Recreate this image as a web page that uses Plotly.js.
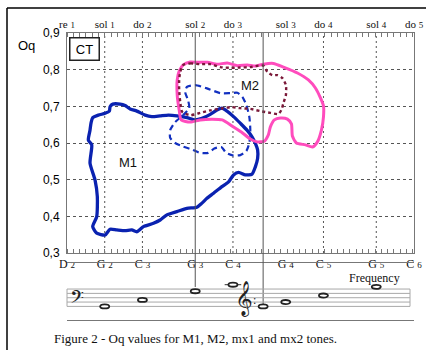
<!DOCTYPE html>
<html>
<head>
<meta charset="utf-8">
<script src="https://cdn.plot.ly/plotly-3.0.1.min.js"></script>
<style>html,body{margin:0;padding:0;background:#fff;}#chart{width:426px;height:350px;}</style>
</head>
<body>
<div id="chart"></div>
<script>
// ---- axis notes (x in MIDI semitones) ----
const noteMidi = [38, 43, 48, 55, 60, 67, 72, 79, 84];
const bottomLabels = ['D 2', 'G 2', 'C 3', 'G 3', 'C 4', 'G 4', 'C 5', 'G 5', 'C 6'];
const topLabels = ['re 1', 'sol 1', 'do 2', 'sol 2', 'do 3', 'sol 3', 'do 4', 'sol 4', 'do 5'];
const gridMidi = [43, 48, 60, 72, 79];
const passageMidi = [55, 64];          // G3 and E4 register lines
const yTicks = [0.3, 0.4, 0.5, 0.6, 0.7, 0.8, 0.9];
const yLabels = ['0,3', '0,4', '0,5', '0,6', '0,7', '0,8', '0,9'];

// ---- M1 (solid blue) ----
const m1Pitch = [41.41,42.16,43.05,43.62,43.71,44.07,45.04,45.70,46.37,47.26,48.36,49.25,50.35,51.45,52.57,53.90,55.00,55.89,56.99,57.88,58.54,59.21,60.08,60.97,61.86,62.53,62.97,63.27,63.27,62.97,62.53,61.64,60.75,60.08,59.42,58.54,57.43,56.55,55.89,55.22,53.90,52.57,51.24,50.35,49.46,48.13,47.26,46.59,45.70,44.60,43.71,43.05,41.94,41.41,41.94,42.02,41.72,41.05,41.28,40.83,41.05,41.19];
const m1Oq = [0.669,0.676,0.681,0.687,0.699,0.706,0.706,0.702,0.693,0.687,0.676,0.672,0.674,0.676,0.674,0.669,0.663,0.667,0.678,0.690,0.695,0.687,0.672,0.654,0.635,0.617,0.599,0.581,0.558,0.535,0.515,0.513,0.520,0.513,0.494,0.481,0.463,0.449,0.436,0.425,0.422,0.413,0.404,0.390,0.381,0.372,0.358,0.363,0.361,0.363,0.365,0.349,0.354,0.372,0.399,0.454,0.499,0.545,0.595,0.608,0.635,0.655];

// ---- mx1 (dashed blue) ----
const mx1Pitch = [53.90,55.00,56.55,58.32,59.65,60.58,61.24,61.77,62.17,62.30,62.17,61.77,60.97,60.05,59.12,58.45,57.52,56.72,55.66,54.60,53.40,52.34,51.68,51.68,52.34,53.40,54.20,54.07,53.67];
const mx1Oq = [0.753,0.758,0.749,0.736,0.736,0.737,0.726,0.704,0.671,0.635,0.600,0.578,0.567,0.566,0.573,0.589,0.585,0.573,0.573,0.582,0.590,0.600,0.614,0.635,0.657,0.676,0.695,0.715,0.739];

// ---- M2 (solid pink) ----
const m2Pitch = [53.41,54.33,55.26,56.59,57.92,59.25,60.58,61.90,62.97,64.03,65.36,66.69,68.55,70.00,70.93,71.60,72.00,72.00,71.73,71.20,70.54,69.61,68.41,67.88,67.75,67.22,66.29,65.49,64.96,64.69,64.16,63.23,62.30,61.11,59.91,58.58,57.26,55.66,54.33,53.14,52.87,52.61,52.61,52.87];
const m2Oq = [0.813,0.821,0.820,0.820,0.815,0.818,0.811,0.813,0.810,0.815,0.817,0.807,0.791,0.772,0.750,0.723,0.701,0.671,0.635,0.603,0.589,0.595,0.600,0.619,0.652,0.665,0.668,0.663,0.644,0.622,0.605,0.603,0.611,0.630,0.646,0.663,0.665,0.663,0.657,0.663,0.690,0.731,0.772,0.796];

// ---- mx2 (dotted dark red) ----
const mx2Pitch = [53.41,54.33,55.66,56.99,58.32,59.65,60.97,62.30,63.37,64.03,64.56,65.22,65.89,66.55,67.02,67.02,66.69,66.42,66.02,64.96,63.63,62.30,60.97,59.78,58.45,56.99,55.66,54.33,53.27,53.01,52.87,52.87,53.01];
const mx2Oq = [0.813,0.817,0.815,0.815,0.807,0.805,0.806,0.807,0.811,0.811,0.794,0.785,0.785,0.777,0.758,0.731,0.709,0.690,0.679,0.682,0.687,0.693,0.695,0.698,0.694,0.689,0.682,0.676,0.685,0.712,0.745,0.772,0.794];

// ---- staff notes (step 0 = bottom line of each staff) ----
const staffMidi = [43, 48, 55, 60, 64, 67, 72, 79];
const staffStep = [0, 3, 7, 10, 0, 2, 5, 9];

function closed(a) { return a.concat([a[0]]); }

const traces = [
  {x: closed(m1Pitch), y: closed(m1Oq), mode: 'lines', name: 'M1',
   line: {color: '#0a22b0', width: 3.3, shape: 'spline', smoothing: 0.6}},
  {x: closed(mx1Pitch), y: closed(mx1Oq), mode: 'lines', name: 'mx1',
   line: {color: '#1230c0', width: 2.2, dash: '6px,4px', shape: 'spline', smoothing: 0.6}},
  {x: closed(m2Pitch), y: closed(m2Oq), mode: 'lines', name: 'M2',
   line: {color: '#ff4cbd', width: 3, shape: 'spline', smoothing: 0.6}},
  {x: closed(mx2Pitch), y: closed(mx2Oq), mode: 'lines', name: 'mx2',
   line: {color: '#7a1838', width: 2.4, dash: 'dot', shape: 'spline', smoothing: 0.6}},
  {x: [noteMidi[0]], y: [0.3], xaxis: 'x2', yaxis: 'y', mode: 'markers', marker: {opacity: 0}, hoverinfo: 'skip'}
];

// layout geometry helpers (plot area: x 67..414, y 33..320)
const PH = 287, PW = 347;
function py(p) { return (320 - p) / PH; }
function px(p) { return (p - 67) / PW; }
const mainBottom = py(253);

const shapes = [];
gridMidi.forEach(m => shapes.push({type: 'line', xref: 'x', yref: 'paper', x0: m, x1: m, y0: mainBottom, y1: 1,
  line: {color: '#555', width: 1, dash: '2px,3px'}, layer: 'below'}));
const passageEnds = [py(287), py(304)];
passageMidi.forEach((m, i) => shapes.push({type: 'line', xref: 'x', yref: 'paper', x0: m, x1: m, y0: passageEnds[i], y1: 1,
  line: {color: '#555', width: 1}}));
[0, 2, 4, 6, 8].forEach(s => shapes.push({type: 'line', xref: 'paper', yref: 'y2', x0: 0, x1: px(410), y0: s, y1: s,
  line: {color: '#a8a8a8', width: 1}}));
shapes.push({type: 'line', xref: 'paper', yref: 'y2', x0: 0, x1: 0, y0: 0, y1: 8, line: {color: '#a8a8a8', width: 1}});
shapes.push({type: 'line', xref: 'paper', yref: 'y2', x0: px(410), x1: px(410), y0: 0, y1: 8, line: {color: '#a8a8a8', width: 1}});
shapes.push({type: 'line', xref: 'x', yref: 'y2', x0: staffMidi[3] - 1.1, x1: staffMidi[3] + 1.1, y0: staffStep[3], y1: staffStep[3],
  line: {color: '#333', width: 1}});
staffMidi.forEach((m, i) => shapes.push({type: 'circle', xref: 'x', yref: 'y2',
  x0: m - 0.6, x1: m + 0.6, y0: staffStep[i] - 0.95, y1: staffStep[i] + 0.95,
  line: {color: '#222', width: 1.8}, fillcolor: 'rgba(255,255,255,1)'}));
shapes.push({type: 'line', xref: 'paper', yref: 'paper', x0: px(7), x1: px(426), y0: py(8), y1: py(8), line: {color: '#000', width: 1.5}});
shapes.push({type: 'line', xref: 'paper', yref: 'paper', x0: px(7), x1: px(7), y0: py(8), y1: py(352), line: {color: '#000', width: 1.5}});

const serif = 'Liberation Serif, Times New Roman, serif';
const sans = 'Liberation Sans, Arial, sans-serif';
function ann(o) { return Object.assign({showarrow: false, xanchor: 'center', yanchor: 'middle'}, o); }

const annotations = [
  ann({text: 'Oq', xref: 'paper', yref: 'paper', x: px(26), y: py(45), font: {family: sans, size: 13, color: '#000'}}),
  ann({text: 'CT', xref: 'paper', yref: 'paper', x: px(84.5), y: py(49.5), font: {family: sans, size: 13, color: '#000'},
   bordercolor: '#222', borderwidth: 1.5, width: 26, height: 19, borderpad: 1, bgcolor: '#fff'}),
  ann({text: 'M1', xref: 'x', yref: 'y', x: 46.1, y: 0.548, font: {family: sans, size: 13, color: '#111'}}),
  ann({text: 'M2', xref: 'x', yref: 'y', x: 62.24, y: 0.758, font: {family: sans, size: 13, color: '#111'}}),
  ann({text: 'Frequency', xref: 'paper', yref: 'paper', x: px(374), y: py(277.5), font: {family: serif, size: 12, color: '#111'}}),
  ann({text: 'Figure 2 - Oq values for M1, M2, mx1 and mx2 tones.', xref: 'paper', yref: 'paper', x: px(195), y: py(338),
   font: {family: serif, size: 13, color: '#111'}}),
  ann({text: '\u{1D122}', xref: 'paper', yref: 'paper', x: px(77), y: py(299), font: {family: 'DejaVu Sans, Noto Sans, serif', size: 22, color: '#222'}}),
  ann({text: '\u{1D11E}', xref: 'paper', yref: 'paper', x: px(244), y: py(298), font: {family: 'DejaVu Sans, Noto Sans, serif', size: 30, color: '#222'}}),
  ann({text: ':', xref: 'paper', yref: 'paper', x: px(255), y: py(300), font: {family: serif, size: 12, color: '#222'}})
];

const layout = {
  width: 426, height: 350,
  margin: {l: 67, r: 12, t: 33, b: 30},
  paper_bgcolor: '#fff', plot_bgcolor: '#fff',
  showlegend: false,
  xaxis: {range: [38, 84], tickmode: 'array', tickvals: noteMidi,
          ticktext: bottomLabels.map(t => t.replace(/ (\d)$/, ' <span style="font-size:9px">$1</span>')),
          ticks: '', showgrid: false, zeroline: false, showline: true, linecolor: '#777', linewidth: 1, mirror: 'allticks',
          tickfont: {family: serif, size: 12, color: '#111'}, anchor: 'y', ticklabelstandoff: 0,
          minor: {tickmode: 'linear', tick0: 38, dtick: 5 / 6, ticks: 'inside', ticklen: 4, tickcolor: '#777', tickwidth: 1, showgrid: false}},
  xaxis2: {range: [38, 84], overlaying: 'x', side: 'top', anchor: 'y', tickmode: 'array', tickvals: noteMidi,
           ticktext: topLabels.map(t => t.replace(/ (\d)$/, ' <span style="font-size:9px">$1</span>')),
           ticks: '', showgrid: false, zeroline: false, showline: false, ticklabelstandoff: 2,
           tickfont: {family: serif, size: 11, color: '#111'}},
  yaxis: {domain: [mainBottom, 1], range: [0.3, 0.9], tickmode: 'array', tickvals: yTicks, ticktext: yLabels,
          showgrid: true, gridcolor: '#555', griddash: '3px,3px', gridwidth: 1, zeroline: false,
          showline: true, linecolor: '#777', linewidth: 1, mirror: true, ticks: '', ticklabelstandoff: 4,
          tickfont: {family: sans, size: 12, color: '#000'}},
  yaxis2: {domain: [0, 0.2], range: [(306.4 - 320) / 2.17, (306.4 - (320 - 0.2 * PH)) / 2.17], visible: false, anchor: 'x'},
  shapes: shapes,
  annotations: annotations
};

Plotly.newPlot('chart', traces, layout, {staticPlot: true});
</script>
</body>
</html>
